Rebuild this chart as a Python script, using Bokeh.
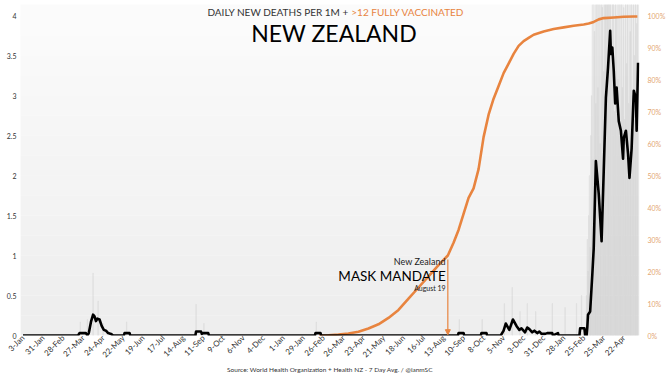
import pandas as pd
from bokeh.plotting import figure
from bokeh.models import (Range1d, LinearAxis, FixedTicker, NumeralTickFormatter,
                          PrintfTickFormatter, Label, Arrow, NormalHead, BoxAnnotation)
from bokeh.embed import file_html
from bokeh.resources import INLINE

START = "2020-01-03"

tick_labels = ["3-Jan", "31-Jan", "28-Feb", "27-Mar", "24-Apr", "22-May", "19-Jun",
               "17-Jul", "14-Aug", "11-Sep", "9-Oct", "6-Nov", "4-Dec", "1-Jan",
               "29-Jan", "26-Feb", "26-Mar", "23-Apr", "21-May", "18-Jun", "16-Jul",
               "13-Aug", "10-Sep", "8-Oct", "5-Nov", "3-Dec", "31-Dec", "28-Jan",
               "25-Feb", "25-Mar", "22-Apr"]

# Daily new deaths per 1M, 7-day average (black line)
death_dates = ["2020-01-03", "2020-03-20", "2020-03-22", "2020-03-31", "2020-04-02",
               "2020-04-04", "2020-04-07", "2020-04-10", "2020-04-12", "2020-04-14",
               "2020-04-16", "2020-04-19", "2020-04-22", "2020-04-25", "2020-04-28",
               "2020-05-01", "2020-05-05", "2020-05-08", "2020-05-23", "2020-05-24",
               "2020-05-31", "2020-06-01", "2020-08-31", "2020-09-01", "2020-09-08",
               "2020-09-09", "2020-09-11", "2020-09-18", "2020-09-19", "2021-02-14",
               "2021-02-15", "2021-02-22", "2021-02-23", "2021-09-02", "2021-09-03",
               "2021-09-10", "2021-09-11", "2021-10-04", "2021-10-05", "2021-10-12",
               "2021-10-13", "2021-11-01", "2021-11-05", "2021-11-08", "2021-11-13",
               "2021-11-18", "2021-11-23", "2021-11-27", "2021-11-30", "2021-12-05",
               "2021-12-08", "2021-12-11", "2021-12-15", "2021-12-18", "2021-12-22",
               "2021-12-25", "2021-12-28", "2022-01-02", "2022-01-05", "2022-01-12",
               "2022-01-13", "2022-01-20", "2022-01-21", "2022-02-19", "2022-02-20",
               "2022-02-26", "2022-02-27", "2022-03-01", "2022-03-02", "2022-03-03",
               "2022-03-06", "2022-03-09", "2022-03-11", "2022-03-14", "2022-03-18",
               "2022-03-22", "2022-03-25", "2022-03-28", "2022-03-31", "2022-04-03",
               "2022-04-04", "2022-04-06", "2022-04-08", "2022-04-10", "2022-04-12",
               "2022-04-15", "2022-04-18", "2022-04-21", "2022-04-22", "2022-04-25",
               "2022-04-28", "2022-04-30", "2022-05-03", "2022-05-06", "2022-05-09",
               "2022-05-10", "2022-05-12"]
death_values = [0, 0, 0.03, 0.03, 0,
                0.03, 0.17, 0.26, 0.24, 0.18,
                0.21, 0.2, 0.12, 0.07, 0.06,
                0.03, 0.02, 0, 0, 0.03,
                0.03, 0, 0, 0.05, 0.05,
                0.02, 0.03, 0.03, 0, 0,
                0.03, 0.03, 0, 0, 0.03,
                0.03, 0, 0, 0.03, 0.03,
                0, 0, 0.06, 0.15, 0.07,
                0.2, 0.12, 0.07, 0.09, 0.04,
                0.1, 0.08, 0.04, 0.06, 0.03,
                0.05, 0.02, 0.02, 0.03, 0.03,
                0, 0.03, 0, 0, 0.09,
                0.09, 0, 0, 0.1, 0.26,
                0.3, 0.76, 1.09, 2.18, 1.77,
                1.18, 2.06, 2.97, 3.35, 3.81,
                3.52, 3.6, 3.31, 2.9, 3.1,
                2.68, 2.56, 2.21, 2.47, 2.56,
                2.27, 1.97, 2.34, 3.06, 2.97,
                2.56, 3.41]

# >12 fully vaccinated, percent (orange line, right axis)
vacc_dates = ["2021-02-20", "2021-03-05", "2021-03-19", "2021-04-02", "2021-04-16",
              "2021-04-30", "2021-05-14", "2021-05-28", "2021-06-11", "2021-06-25",
              "2021-07-09", "2021-07-23", "2021-08-06", "2021-08-19", "2021-08-27",
              "2021-09-03", "2021-09-10", "2021-09-17", "2021-09-24", "2021-10-01",
              "2021-10-08", "2021-10-15", "2021-10-22", "2021-10-29", "2021-11-05",
              "2021-11-12", "2021-11-19", "2021-11-26", "2021-12-03", "2021-12-10",
              "2021-12-17", "2021-12-31", "2022-01-14", "2022-01-28", "2022-02-11",
              "2022-02-25", "2022-03-04", "2022-03-11", "2022-03-18", "2022-03-25",
              "2022-04-08", "2022-04-22", "2022-05-06", "2022-05-11"]
vacc_pct = [0, 0.1, 0.3, 0.6, 1.2,
            2.2, 3.5, 5.5, 8, 11.5,
            15, 18.5, 22, 25, 29,
            33, 38, 43, 46, 52,
            62, 69, 74, 78, 82,
            85, 88, 90.5, 92, 93,
            94, 95, 95.8, 96.3, 96.8,
            97.2, 97.5, 98, 98.8, 99.2,
            99.4, 99.6, 99.7, 99.7]

# Daily raw deaths per 1M (faint grey bars)
bar_dates = ["2020-03-23", "2020-04-02", "2020-04-10", "2020-04-17", "2020-04-24",
             "2020-05-27", "2020-09-01", "2020-09-12", "2021-02-16", "2021-09-04",
             "2021-10-06", "2021-11-06", "2021-11-17", "2021-11-28", "2021-12-08",
             "2021-12-20", "2022-01-12", "2022-01-30", "2022-02-15", "2022-02-22"]
bar_values = [0.17, 0.2, 0.78, 0.43, 0.15,
              0.17, 0.39, 0.15, 0.17, 0.2,
              0.2, 0.4, 0.6, 0.3, 0.4,
              0.3, 0.4, 0.35, 0.4, 0.5]
daily_2022_start = "2022-03-01"
daily_2022_values = [0.5, 1.2, 0.8, 1.5, 2.0, 1.1, 2.5,
                     3.0, 4.5, 2.2, 5.0, 3.8, 6.1, 2.9,
                     4.6, 5.2, 3.1, 4.8, 6.0, 2.4, 4.4,
                     5.5, 4.1, 6.3, 3.3, 5.8, 4.9, 7.0,
                     5.1, 6.4, 4.2, 5.6, 8.0, 4.7, 5.9,
                     3.6, 6.8, 4.4, 5.2, 2.8, 4.9, 6.1,
                     4.0, 5.3, 3.2, 4.6, 5.7, 2.6, 4.8,
                     4.3, 3.1, 5.5, 4.1, 2.7, 4.9, 5.0,
                     3.4, 4.7, 4.2, 2.9, 5.1, 3.8, 4.5,
                     4.4, 3.0, 5.8, 4.9, 3.5, 5.2, 4.6,
                     3.9, 5.4, 4.7]

mandate_date = "2021-08-19"


def day(d):
    return (pd.Timestamp(d) - pd.Timestamp(START)).days


death_x = [day(d) for d in death_dates]
vacc_x = [day(d) for d in vacc_dates]
bar_x = [day(d) for d in bar_dates] + [day(daily_2022_start) + i for i in range(len(daily_2022_values))]
bar_top = bar_values + daily_2022_values

ORANGE = "#E8843F"
AXIS_ORANGE = "#E3A674"
FONT = "Lato"

x0, x1 = -3.5, 862
Y_TOP = 4.138
p = figure(width=668, height=376, output_backend="svg", toolbar_location=None,
           x_range=Range1d(x0, x1), y_range=Range1d(0, Y_TOP),
           min_border_left=20, min_border_right=20, min_border_top=4, min_border_bottom=40)
p.extra_y_ranges = {"pct": Range1d(0, 100 * Y_TOP / 4)}
p.outline_line_color = None
p.background_fill_color = "#fbfbfb"
p.border_fill_color = "white"
p.xgrid.visible = False
p.ygrid.visible = False

# soft vertical gradient of the plotting area
nb = 16
for i in range(nb):
    lvl = int(238 + (251 - 238) * i / (nb - 1))
    p.add_layout(BoxAnnotation(bottom=4 * i / nb, top=4 * (i + 1) / nb,
                               fill_color="#%02x%02x%02x" % (lvl, lvl, lvl), fill_alpha=1,
                               line_alpha=0, level="underlay"))

p.vbar(x=bar_x, top=bar_top, width=0.6, color="#d0d0d0", alpha=0.25)
p.line(vacc_x, vacc_pct, y_range_name="pct", line_color=ORANGE, line_width=2.6,
       line_join="round")
p.line(death_x, death_values, line_color="black", line_width=2.6, line_join="round")

# axes
xa = p.xaxis[0]
xa.ticker = FixedTicker(ticks=[i * 28 for i in range(len(tick_labels))])
xa.major_label_overrides = {i * 28: lab for i, lab in enumerate(tick_labels)}
xa.major_label_orientation = 0.785398
xa.major_label_text_font = FONT
xa.major_label_text_font_size = "8px"
xa.major_label_text_color = "#333333"
xa.axis_line_color = None
xa.major_tick_line_color = None
xa.minor_tick_line_color = None
xa.major_tick_out = 0
xa.major_tick_in = 0
xa.major_label_standoff = 1
xa.axis_label = "Source: World Health Organization + Health NZ - 7 Day Avg. / @ianmSC"
xa.axis_label_text_font = FONT
xa.axis_label_text_font_size = "6.5px"
xa.axis_label_text_font_style = "normal"
xa.axis_label_text_color = "#333333"
xa.axis_label_standoff = 0

ya = p.yaxis[0]
ya.ticker = FixedTicker(ticks=[0, 0.5, 1, 1.5, 2, 2.5, 3, 3.5, 4])
ya.formatter = NumeralTickFormatter(format="0.[0]")
ya.major_label_text_font = FONT
ya.major_label_text_font_size = "7px"
ya.major_label_text_color = "#333333"
ya.axis_line_color = None
ya.major_tick_line_color = None
ya.minor_tick_line_color = None
ya.major_tick_out = 0
ya.major_label_standoff = 4

ra = LinearAxis(y_range_name="pct", ticker=FixedTicker(ticks=list(range(0, 101, 10))),
                formatter=PrintfTickFormatter(format="%d%%"))
ra.major_label_text_font = FONT
ra.major_label_text_font_size = "7px"
ra.major_label_text_color = AXIS_ORANGE
ra.axis_line_color = None
ra.major_tick_line_color = None
ra.minor_tick_line_color = None
ra.major_tick_out = 0
ra.major_label_standoff = 8
p.add_layout(ra, "right")

# titles (inside the top of the frame)
x_split = 459
x_mid = 435
p.add_layout(Label(x=x_split, y=4.05, text="DAILY NEW DEATHS PER 1M + ", text_align="right",
                   text_baseline="middle", text_font=FONT, text_font_size="10px",
                   text_color="#333333"))
p.add_layout(Label(x=x_split, y=4.05, text=">12 FULLY VACCINATED", text_align="left",
                   text_baseline="middle", text_font=FONT, text_font_size="10px",
                   text_color=ORANGE))
p.add_layout(Label(x=x_mid, y=3.787, text="NEW ZEALAND", text_align="center",
                   text_baseline="middle", text_font=FONT, text_font_size="23px",
                   text_color="black"))

# mask mandate annotation
mx = day(mandate_date)
p.add_layout(Arrow(x_start=mx, y_start=0.95, x_end=mx, y_end=0.01,
                   line_color=ORANGE, line_width=1.2,
                   end=NormalHead(size=5, fill_color=ORANGE, line_color=ORANGE)))
p.add_layout(Label(x=mx - 3, y=0.93, text="New Zealand", text_align="right",
                   text_baseline="middle", text_font=FONT, text_font_size="9px",
                   text_color="#222222"))
p.add_layout(Label(x=mx - 3, y=0.745, text="MASK MANDATE", text_align="right",
                   text_baseline="middle", text_font=FONT, text_font_size="13.5px",
                   text_color="black"))
p.add_layout(Label(x=mx - 3, y=0.59, text="August 19", text_align="right",
                   text_baseline="middle", text_font=FONT, text_font_size="7px",
                   text_color="#222222"))

open("out.html", "w").write(file_html(p, INLINE))
